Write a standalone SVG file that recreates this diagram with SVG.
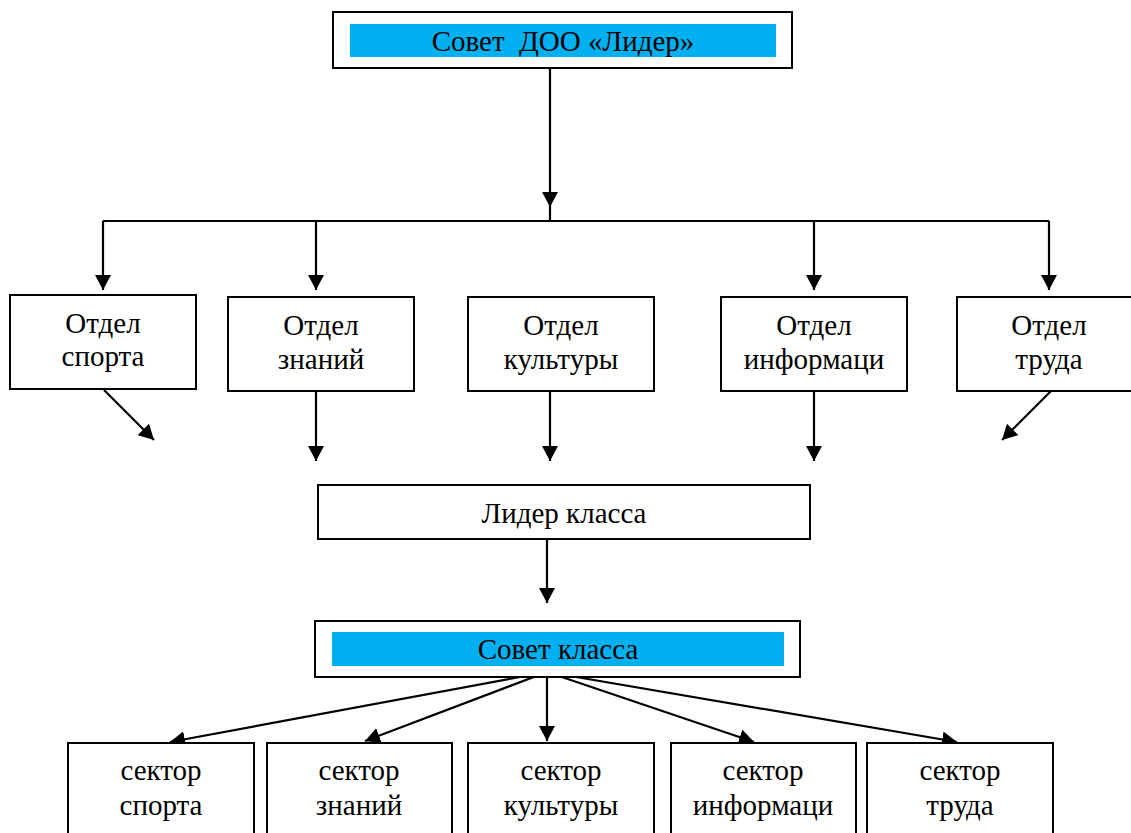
<svg xmlns="http://www.w3.org/2000/svg" width="1131" height="833" viewBox="0 0 1131 833">
<style>
.box{fill:#fff;stroke:#000;stroke-width:2}
.blue{fill:#00b0f0}
.t{font-family:'Liberation Serif','Times New Roman',serif;font-size:29px;fill:#000;text-anchor:middle;white-space:pre}
.c{stroke:#000;stroke-width:2.2;fill:none}
.a{stroke:#000;stroke-width:2.2;fill:none;marker-end:url(#ah)}
</style>
<defs>
<marker id="ah" markerUnits="userSpaceOnUse" markerWidth="16" markerHeight="16" viewBox="0 0 16 16" refX="15" refY="8" orient="auto">
<path d="M0,0 L15,8 L0,16 Z" fill="#000"/>
</marker>
</defs>
<g id="connectors">
<path class="a" d="M550,66 V207"/>
<path class="c" d="M550,207 V221" stroke-width="1.5"/>
<path class="c" d="M103,221 H1049" stroke-width="1.8"/>
<path class="a" d="M103,221 V290"/>
<path class="a" d="M316,221 V290"/>
<path class="a" d="M814,221 V290"/>
<path class="a" d="M1049,221 V290"/>
<path class="a" d="M104,390 L154,440"/>
<path class="a" d="M316,391 V461"/>
<path class="a" d="M550,391 V461"/>
<path class="a" d="M814,391 V461"/>
<path class="a" d="M1051,391 L1002,440"/>
<path class="a" d="M547,539 V603"/>
<path class="a" d="M547,672 L170,742"/>
<path class="a" d="M547,672 L365,741"/>
<path class="a" d="M547,672 V741"/>
<path class="a" d="M547,672 L754,742"/>
<path class="a" d="M547,672 L957,742"/>
</g>
<g id="sovet-doo">
<rect class="box" x="333" y="12" width="459" height="56"/>
<rect class="blue" x="350" y="24" width="426" height="33"/>
<text class="t" x="563" y="51" xml:space="preserve">Совет  ДОО «Лидер»</text>
</g>
<g id="otdel-sporta">
<rect class="box" x="10" y="295" width="186" height="94"/>
<text class="t" x="103" y="333">Отдел</text>
<text class="t" x="103" y="366">спорта</text>
</g>
<g id="otdel-znaniy">
<rect class="box" x="228" y="297" width="186" height="94"/>
<text class="t" x="321" y="335">Отдел</text>
<text class="t" x="321" y="369">знаний</text>
</g>
<g id="otdel-kultury">
<rect class="box" x="468" y="297" width="186" height="94"/>
<text class="t" x="561" y="335">Отдел</text>
<text class="t" x="561" y="369">культуры</text>
</g>
<g id="otdel-informatsii">
<rect class="box" x="721" y="297" width="186" height="94"/>
<text class="t" x="814" y="335">Отдел</text>
<text class="t" x="814" y="369">информаци</text>
</g>
<g id="otdel-truda">
<rect class="box" x="957" y="297" width="186" height="94"/>
<text class="t" x="1049" y="335">Отдел</text>
<text class="t" x="1049" y="369">труда</text>
</g>
<g id="lider-klassa">
<rect class="box" x="318" y="485" width="492" height="54"/>
<text class="t" x="564" y="523">Лидер класса</text>
</g>
<g id="sovet-klassa">
<rect class="box" x="315" y="621" width="485" height="56"/>
<rect class="blue" x="332" y="632" width="452" height="34"/>
<text class="t" x="558" y="659">Совет класса</text>
</g>
<g id="sektor-sporta">
<rect class="box" x="68" y="743" width="186" height="100"/>
<text class="t" x="161" y="780">сектор</text>
<text class="t" x="161" y="815">спорта</text>
</g>
<g id="sektor-znaniy">
<rect class="box" x="267" y="743" width="185" height="100"/>
<text class="t" x="359" y="780">сектор</text>
<text class="t" x="359" y="815">знаний</text>
</g>
<g id="sektor-kultury">
<rect class="box" x="468" y="743" width="186" height="100"/>
<text class="t" x="561" y="780">сектор</text>
<text class="t" x="561" y="815">культуры</text>
</g>
<g id="sektor-informatsii">
<rect class="box" x="671" y="743" width="185" height="100"/>
<text class="t" x="763" y="780">сектор</text>
<text class="t" x="763" y="815">информаци</text>
</g>
<g id="sektor-truda">
<rect class="box" x="867" y="743" width="186" height="100"/>
<text class="t" x="960" y="780">сектор</text>
<text class="t" x="960" y="815">труда</text>
</g>
</svg>
